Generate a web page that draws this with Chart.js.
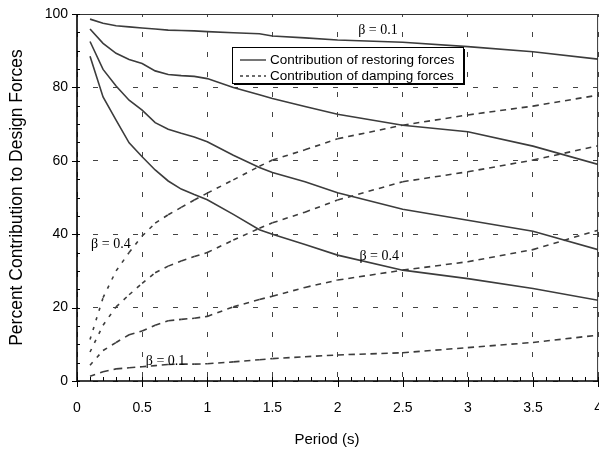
<!DOCTYPE html>
<html>
<head>
<meta charset="utf-8">
<title>Percent contribution to design forces</title>
<script src="https://cdn.jsdelivr.net/npm/chart.js@4/dist/chart.umd.min.js"></script>
<style>
  html, body { margin: 0; padding: 0; background: #fff; overflow: hidden; }
  #wrap { width: 621px; height: 453px; }
</style>
</head>
<body>
<div id="wrap"><canvas id="chart" width="621" height="453"></canvas></div>
<script>
/* ── Data: period (s) vs. percent contribution ── */
const PERIODS = [0.1, 0.2, 0.3, 0.4, 0.5, 0.6, 0.7, 0.8, 0.9, 1.0, 1.2, 1.4, 1.5, 1.75, 2.0, 2.5, 3.0, 3.5, 4.0];

// restoring forces, beta = 0.1 .. 0.4
const RESTORING_B01 = [98.6, 97.5, 96.8, 96.5, 96.2, 95.9, 95.6, 95.5, 95.4, 95.2, 94.9, 94.6, 94.0, 93.5, 92.9, 92.3, 91.1, 89.7, 87.7];
const RESTORING_B02 = [95.9, 92.0, 89.3, 87.6, 86.5, 84.5, 83.5, 83.2, 83.0, 82.4, 80.0, 78.0, 77.0, 74.8, 72.7, 69.7, 67.9, 64.0, 59.0];
const RESTORING_B03 = [92.5, 84.9, 80.4, 76.5, 73.8, 70.4, 68.6, 67.5, 66.5, 65.2, 61.5, 58.2, 56.8, 54.3, 51.3, 46.8, 43.8, 40.8, 35.8];
const RESTORING_B04 = [88.5, 77.4, 71.1, 64.9, 61.1, 57.5, 54.5, 52.3, 50.8, 49.4, 45.4, 41.2, 40.0, 37.2, 34.3, 30.2, 27.9, 25.2, 22.0];

// damping forces, beta = 0.1 .. 0.4
const DAMPING_B01 = [1.3, 2.5, 3.3, 3.6, 3.9, 4.2, 4.5, 4.6, 4.6, 4.7, 5.2, 5.8, 6.1, 6.6, 7.1, 7.7, 9.1, 10.5, 12.5];
const DAMPING_B02 = [4.3, 8.3, 10.5, 12.6, 13.6, 15.2, 16.4, 16.8, 17.1, 17.6, 20.2, 22.2, 23.1, 25.5, 27.5, 30.2, 32.5, 35.8, 41.1];
const DAMPING_B03 = [7.9, 15.2, 20.2, 23.5, 26.6, 29.5, 31.3, 32.7, 33.9, 35.0, 38.4, 41.6, 43.1, 46.0, 49.3, 54.3, 57.0, 60.2, 64.1];
const DAMPING_B04 = [11.3, 22.7, 30.0, 35.0, 39.5, 43.0, 45.3, 47.3, 49.3, 51.2, 54.8, 58.5, 60.2, 63.0, 66.0, 69.7, 72.5, 74.9, 77.9];

const X_TICK_LABELS = ['0', '0.5', '1', '1.5', '2', '2.5', '3', '3.5', '4'];
const Y_TICK_LABELS = ['0', '20', '40', '60', '80', '100'];

const X_TITLE = 'Period (s)';
const Y_TITLE = 'Percent Contribution to Design Forces';
const LEGEND_LABELS = ['Contribution of restoring forces', 'Contribution of damping forces'];

// curve labels, placed at (period, percent)
const CURVE_NOTES = [
  { text: 'β = 0.1', x: 2.31, y: 95.6 },
  { text: 'β = 0.4', x: 0.26, y: 37.2 },
  { text: 'β = 0.4', x: 2.32, y: 34.0 },
  { text: 'β = 0.1', x: 0.68, y: 5.4 },
];

const INK = '#3c3c3c';
const SANS = '"Liberation Sans", Arial, sans-serif';

const toPoints = arr => PERIODS.map((p, i) => ({ x: p, y: arr[i] }));

/* dashes look shorter on the steep parts of the damping curves */
function dampingDash(ctx) {
  const dx = ctx.p1.x - ctx.p0.x, dy = ctx.p1.y - ctx.p0.y;
  const steep = Math.abs(dy) / (Math.hypot(dx, dy) || 1);
  return [6.5 - 3.5 * steep, 4.5 + 2.5 * steep];
}

function solidSet(arr) {
  return { data: toPoints(arr), borderColor: INK, borderWidth: 1.6, pointRadius: 0, tension: 0, fill: false };
}
function dashedSet(arr) {
  return {
    data: toPoints(arr), borderColor: INK, borderWidth: 1.6, pointRadius: 0, tension: 0, fill: false,
    borderDash: [6, 5], segment: { borderDash: dampingDash },
  };
}

/* ── Frame, axes, tick marks, legend and curve notes ── */
const decorations = {
  id: 'decorations',
  afterDraw(chart) {
    const { ctx, chartArea: a, scales: { x, y } } = chart;
    ctx.save();

    // top and right frame
    ctx.strokeStyle = '#333';
    ctx.lineWidth = 1;
    ctx.beginPath();
    ctx.moveTo(a.left, a.top + 0.5);
    ctx.lineTo(a.right - 0.5, a.top + 0.5);
    ctx.lineTo(a.right - 0.5, a.bottom);
    ctx.stroke();

    // axes
    ctx.strokeStyle = '#000';
    ctx.lineWidth = 1.6;
    ctx.beginPath();
    ctx.moveTo(a.left, a.top);
    ctx.lineTo(a.left, a.bottom);
    ctx.lineTo(a.right, a.bottom);
    ctx.stroke();

    // tick marks: minor every 0.1 s / 5 %, major every 0.5 s / 20 %
    ctx.lineWidth = 1;
    ctx.beginPath();
    for (let i = 0; i <= 40; i++) {
      const px = Math.round(x.getPixelForValue(i / 10)) + 0.5;
      const major = i % 5 === 0;
      ctx.moveTo(px, a.bottom - 4);
      ctx.lineTo(px, a.bottom + (major ? 6 : 0));
    }
    for (let i = 0; i <= 20; i++) {
      const py = Math.round(y.getPixelForValue(i * 5)) + 0.5;
      const major = i % 4 === 0;
      ctx.moveTo(a.left - (major ? 5 : 0), py);
      ctx.lineTo(a.left + 3, py);
    }
    ctx.stroke();

    // x axis title, sits a little left of the plot centre
    ctx.fillStyle = '#000';
    ctx.font = '15px ' + SANS;
    ctx.textAlign = 'center';
    ctx.textBaseline = 'middle';
    ctx.fillText(X_TITLE, a.left + 250, a.bottom + 59);

    // legend box with drop shadow
    const bx = a.left + 155, by = a.top + 33, bw = 231, bh = 36;
    ctx.fillStyle = '#000';
    ctx.fillRect(bx + 2, by + 2, bw, bh);
    ctx.fillStyle = '#fff';
    ctx.fillRect(bx, by, bw, bh);
    ctx.strokeStyle = '#000';
    ctx.lineWidth = 1;
    ctx.strokeRect(bx + 0.5, by + 0.5, bw, bh);

    ctx.strokeStyle = INK;
    ctx.lineWidth = 1.4;
    ctx.beginPath();
    ctx.moveTo(bx + 8, by + 13);
    ctx.lineTo(bx + 34, by + 13);
    ctx.stroke();
    ctx.setLineDash([3, 3]);
    ctx.beginPath();
    ctx.moveTo(bx + 8, by + 29);
    ctx.lineTo(bx + 34, by + 29);
    ctx.stroke();
    ctx.setLineDash([]);

    ctx.fillStyle = '#000';
    ctx.font = '13.5px ' + SANS;
    ctx.textAlign = 'left';
    ctx.fillText(LEGEND_LABELS[0], bx + 38, by + 13);
    ctx.fillText(LEGEND_LABELS[1], bx + 38, by + 29);

    // beta notes
    ctx.font = '14px "Liberation Serif", "Times New Roman", serif';
    ctx.textAlign = 'center';
    CURVE_NOTES.forEach(n => {
      ctx.fillText(n.text, x.getPixelForValue(n.x), y.getPixelForValue(n.y));
    });

    ctx.restore();
  }
};

/* ── Chart ── */
new Chart(document.getElementById('chart'), {
  type: 'line',
  data: {
    datasets: [
      solidSet(RESTORING_B01), solidSet(RESTORING_B02), solidSet(RESTORING_B03), solidSet(RESTORING_B04),
      dashedSet(DAMPING_B01), dashedSet(DAMPING_B02), dashedSet(DAMPING_B03), dashedSet(DAMPING_B04),
    ]
  },
  options: {
    responsive: false,
    animation: false,
    layout: { padding: { top: 14, left: 0, right: 0, bottom: 0 } },
    plugins: { legend: { display: false }, tooltip: { enabled: false } },
    scales: {
      x: {
        type: 'linear', min: 0, max: 4,
        afterFit: s => { s.height = 72; },
        afterBuildTicks: s => { s.ticks = X_TICK_LABELS.map(t => ({ value: parseFloat(t) })); },
        grid: { color: '#444', lineWidth: 1, drawTicks: false },
        border: { display: false, dash: [5, 15], dashOffset: 2 },
        ticks: {
          padding: 19, color: '#000', maxRotation: 0, autoSkip: false,
          font: { family: SANS, size: 14 },
          callback: (v, i) => X_TICK_LABELS[i],
        },
        title: { display: false },
      },
      y: {
        type: 'linear', min: 0, max: 100,
        afterFit: s => { s.width = 77; },
        afterBuildTicks: s => { s.ticks = Y_TICK_LABELS.map(t => ({ value: parseFloat(t) })); },
        grid: { color: '#444', lineWidth: 1, drawTicks: false },
        border: { display: false, dash: [5, 15], dashOffset: 4 },
        ticks: {
          padding: 9, color: '#000', autoSkip: false,
          font: { family: SANS, size: 14, lineHeight: 0.6 },
          callback: (v, i) => Y_TICK_LABELS[i],
        },
        title: {
          display: true, text: Y_TITLE, color: '#000',
          font: { family: SANS, size: 17.5 },
          padding: { top: 7, bottom: 0 },
        },
      },
    },
  },
  plugins: [decorations],
});
</script>
</body>
</html>
